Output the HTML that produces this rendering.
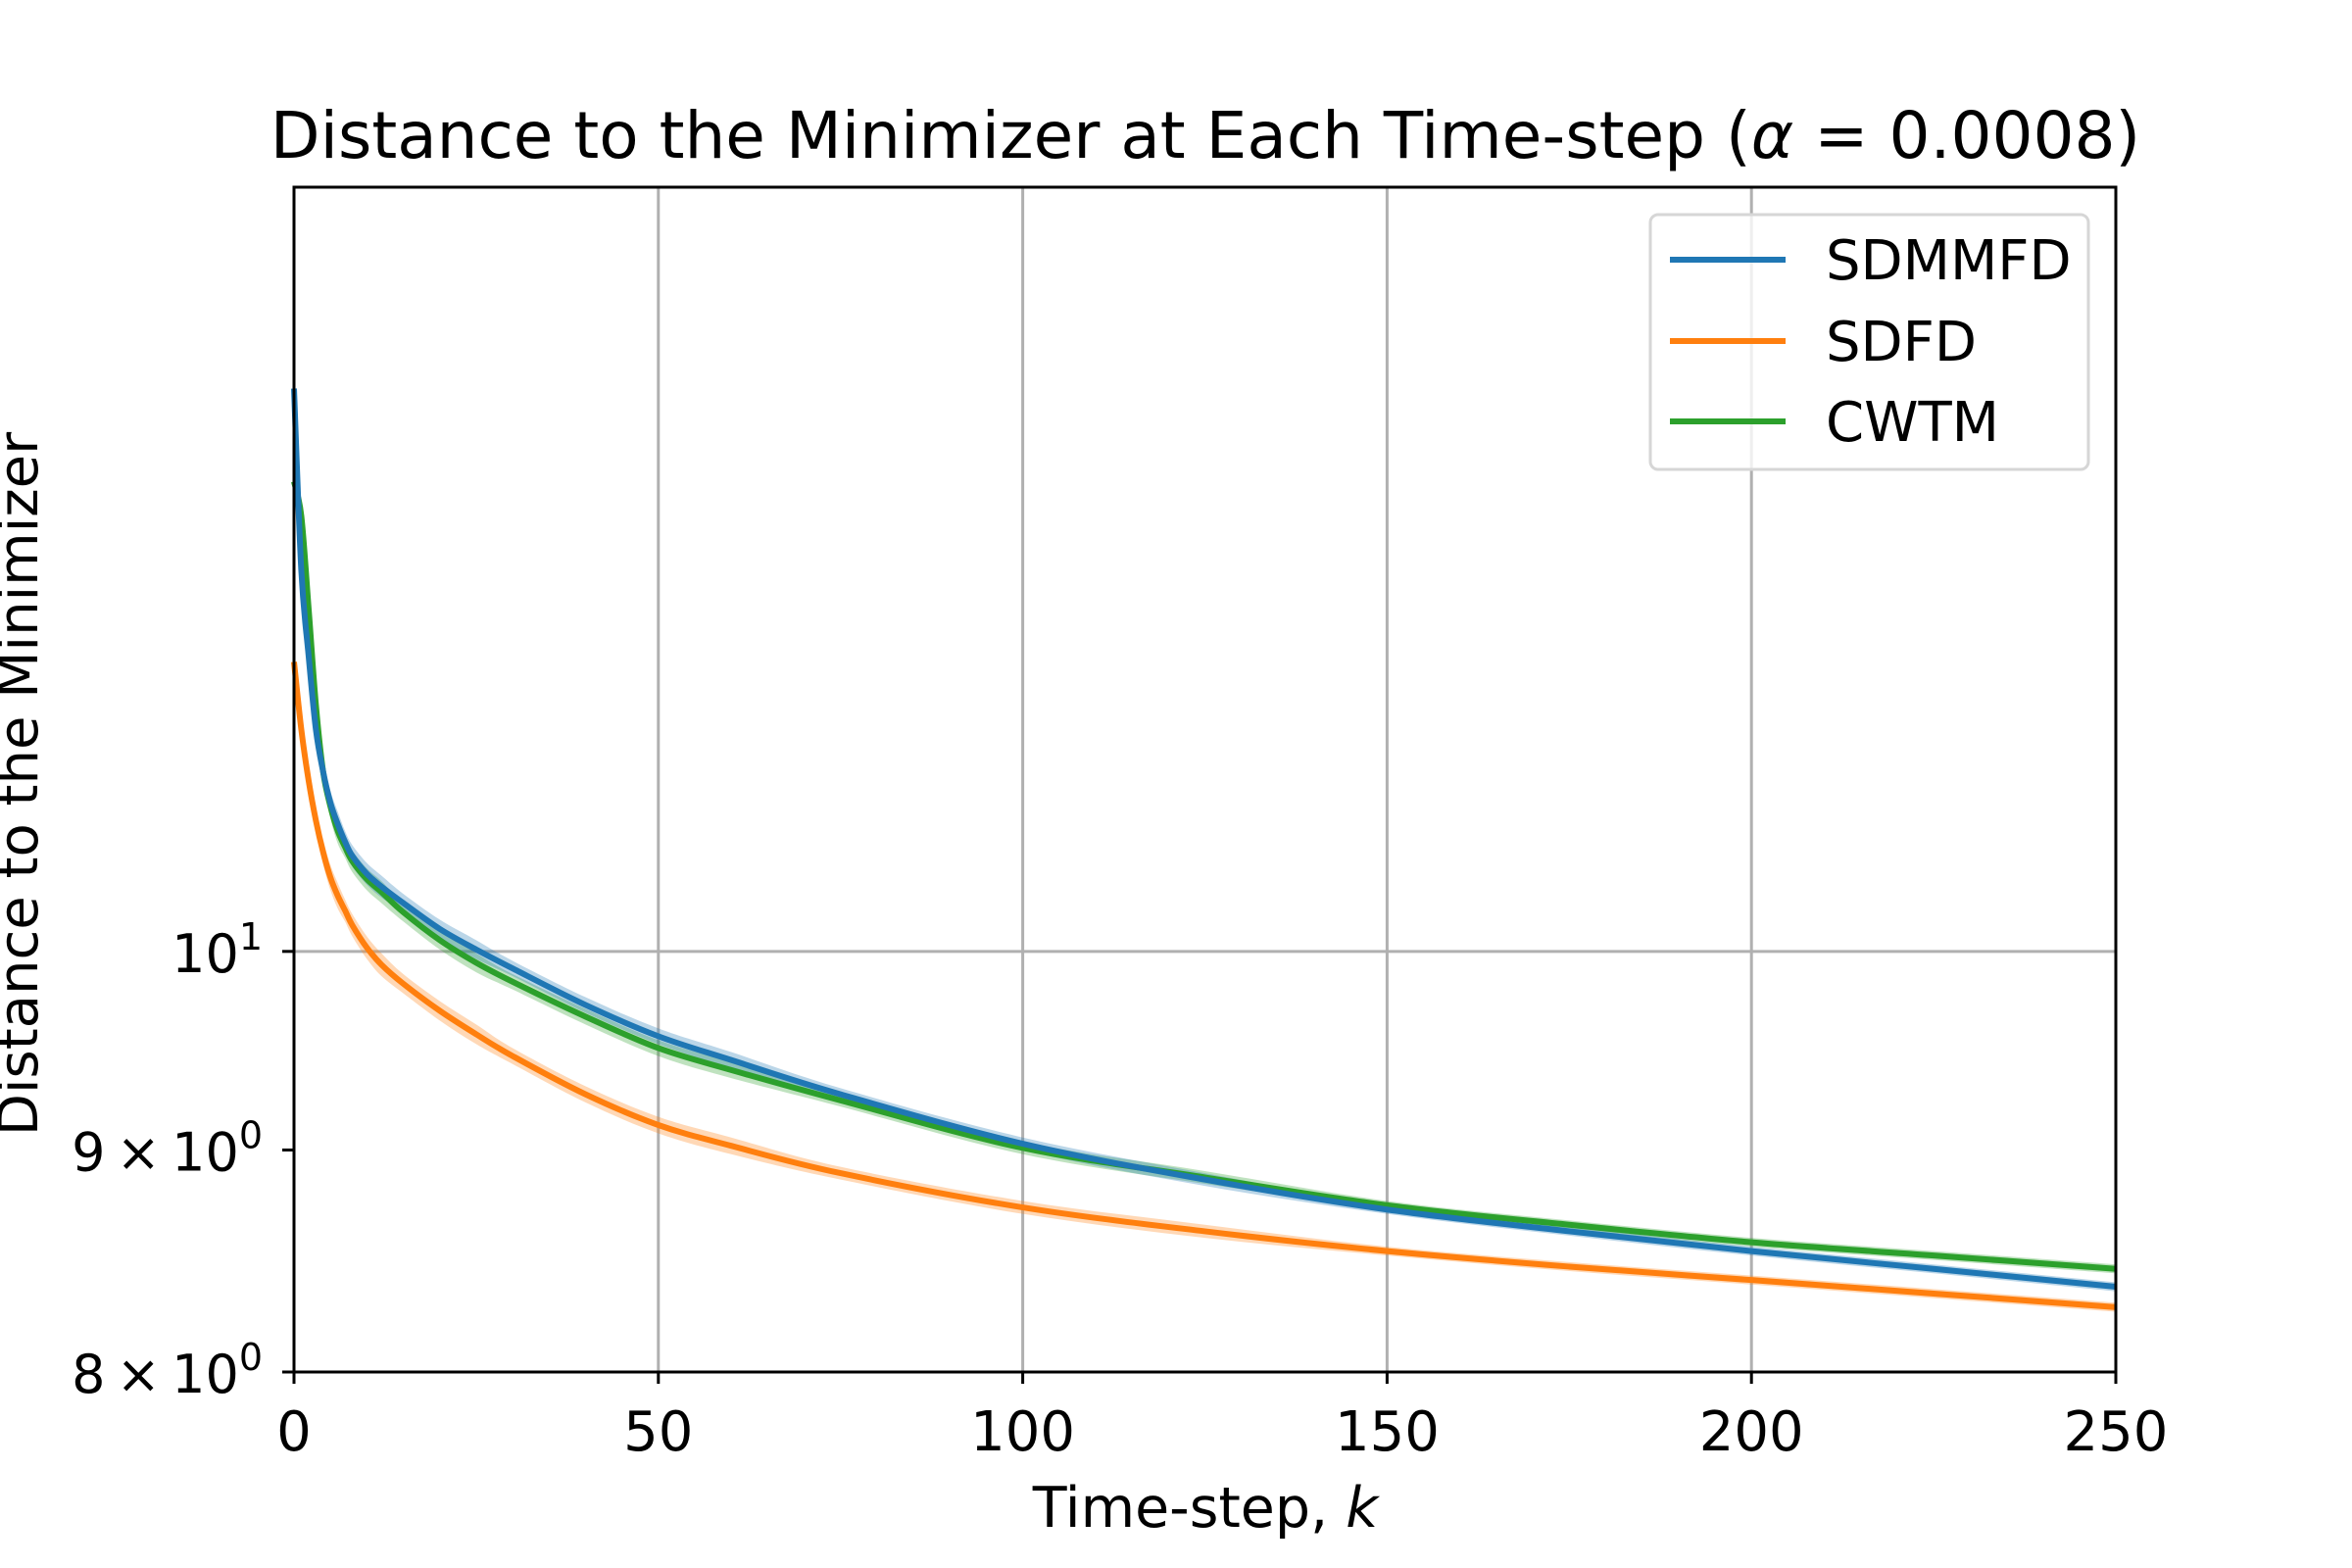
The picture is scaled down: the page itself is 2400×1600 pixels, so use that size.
<!DOCTYPE html>
<html><head><meta charset="utf-8"><style>
html,body{margin:0;padding:0;background:#fff;}
svg{display:block;font-family:"DejaVu Sans","Liberation Sans",sans-serif;}
</style></head><body>
<svg id="chart" width="2400" height="1600" viewBox="0 0 2400 1600" xmlns="http://www.w3.org/2000/svg">
<rect width="2400" height="1600" fill="#fff"/>
<g id="grid"></g>
<g id="bands"></g>
<g id="lines"></g>
<rect x="300" y="191" width="1859" height="1209" fill="none" stroke="#000" stroke-width="3"/>
<g id="ticks"></g>
<text x="1230" y="161" font-size="66" text-anchor="middle">Distance to the Minimizer at Each Time-step (<tspan font-style="italic">α</tspan> = 0.0008)</text>
<text x="1230" y="1558" font-size="57" text-anchor="middle">Time-step, <tspan font-style="italic">k</tspan></text>
<text transform="translate(38,800) rotate(-90)" font-size="56" text-anchor="middle">Distance to the Minimizer</text>
<g>
<rect x="1684" y="219" width="447" height="260" rx="8" fill="#fff" fill-opacity="0.8" stroke="#d6d6d6" stroke-width="3"/>
<line x1="1704" y1="265" x2="1822" y2="265" stroke="#1f77b4" stroke-width="6"/>
<text x="1863" y="285" font-size="56">SDMMFD</text>
<line x1="1704" y1="348" x2="1822" y2="348" stroke="#ff7f0e" stroke-width="6"/>
<text x="1863" y="368" font-size="56">SDFD</text>
<line x1="1704" y1="430" x2="1822" y2="430" stroke="#2ca02c" stroke-width="6"/>
<text x="1863" y="450" font-size="56">CWTM</text>
</g>
</svg>
<script>
const steps  = [0, 1, 2, 3, 4, 5, 6, 7, 8, 10, 12, 15, 20, 25, 30, 40, 50, 60, 75, 100, 125, 150, 175, 200, 225, 250];
const sdmmfd = [13.48, 12.24, 11.7, 11.25, 11.0, 10.82, 10.70, 10.60, 10.52, 10.42, 10.35, 10.26, 10.12, 10.01, 9.91, 9.72, 9.56, 9.44, 9.27, 9.03, 8.86, 8.72, 8.62, 8.53, 8.45, 8.37];
const sdfd   = [11.66, 11.25, 10.95, 10.72, 10.54, 10.40, 10.30, 10.22, 10.14, 10.02, 9.93, 9.83, 9.69, 9.57, 9.46, 9.27, 9.12, 9.02, 8.89, 8.73, 8.62, 8.53, 8.46, 8.40, 8.34, 8.28];
const cwtm   = [12.83, 12.6, 12.0, 11.4, 11.0, 10.80, 10.66, 10.57, 10.49, 10.39, 10.32, 10.21, 10.06, 9.94, 9.84, 9.66, 9.50, 9.39, 9.24, 9.01, 8.87, 8.74, 8.65, 8.57, 8.51, 8.45];
const spread = [0, 0, 0.05, 0.06, 0.07, 0.07, 0.07, 0.06, 0.06, 0.06, 0.06, 0.05, 0.05, 0.05, 0.04, 0.04, 0.04, 0.04, 0.03, 0.03, 0.03, 0.02, 0.02, 0.02, 0.02, 0.02];
const xTicks = [0, 50, 100, 150, 200, 250];
const xTickLabels = ["0", "50", "100", "150", "200", "250"];
const yTicks = [8, 9, 10];
const yTickLabels = [["8 × 10", "0"], ["9 × 10", "0"], ["10", "1"]];

const L = 300, R = 2159, T = 191, B = 1400, XMIN = 0, XMAX = 250, YMIN = 8, YMAX = 15.0;
const NS = "http://www.w3.org/2000/svg";
function xs(v){ return L + (v - XMIN) / (XMAX - XMIN) * (R - L); }
function ys(v){ return B - (Math.log10(v) - Math.log10(YMIN)) / (Math.log10(YMAX) - Math.log10(YMIN)) * (B - T); }
function mk(tag, attrs, parent){ const e = document.createElementNS(NS, tag); for (const k in attrs) e.setAttribute(k, attrs[k]); parent.appendChild(e); return e; }
function smooth(p, start){
  let d = start ? 'M' + p[0][0] + ',' + p[0][1] : 'L' + p[0][0] + ',' + p[0][1];
  for (let i = 0; i < p.length - 1; i++) {
    const p0 = p[Math.max(0, i - 1)], p1 = p[i], p2 = p[i + 1], p3 = p[Math.min(p.length - 1, i + 2)];
    const c1 = [p1[0] + (p2[0] - p0[0]) / 6, p1[1] + (p2[1] - p0[1]) / 6];
    const c2 = [p2[0] - (p3[0] - p1[0]) / 6, p2[1] - (p3[1] - p1[1]) / 6];
    d += 'C' + c1[0] + ',' + c1[1] + ' ' + c2[0] + ',' + c2[1] + ' ' + p2[0] + ',' + p2[1];
  }
  return d;
}

const grid = document.getElementById('grid'), ticks = document.getElementById('ticks');
xTicks.forEach((t, i) => {
  const g = mk('line', {x1: xs(t), x2: xs(t), y1: T, y2: B, stroke: '#b0b0b0', 'stroke-width': 3}, grid);
  
  
  const tk = mk('line', {x1: xs(t), x2: xs(t), y1: B, y2: B + 12, stroke: '#000', 'stroke-width': 3}, ticks);
  
  
  const tx = mk('text', {x: xs(t), y: 1480, 'font-size': 56, 'text-anchor': 'middle'}, ticks);
  tx.textContent = xTickLabels[i];
  
  
});
yTicks.forEach((t, i) => {
  if (t === 10) {
    const g = mk('line', {x1: L, x2: R, y1: ys(t), y2: ys(t), stroke: '#b0b0b0', 'stroke-width': 3}, grid);
    
    
  }
  const tk = mk('line', {x1: L - 12, x2: L, y1: ys(t), y2: ys(t), stroke: '#000', 'stroke-width': 3}, ticks);
  
  
  const tx = mk('text', {x: 268, y: ys(t) + 21, 'font-size': 54, 'text-anchor': 'end', 'word-spacing': -6}, ticks);
  
  
  const a = document.createElementNS(NS, 'tspan'); a.textContent = yTickLabels[i][0]; tx.appendChild(a);
  const b = document.createElementNS(NS, 'tspan'); b.textContent = yTickLabels[i][1];
  b.setAttribute('font-size', 38); b.setAttribute('dy', -23); tx.appendChild(b);
});

const series = [[cwtm, '#2ca02c', 'cwtm'], [sdmmfd, '#1f77b4', 'sdmmfd'], [sdfd, '#ff7f0e', 'sdfd']];
const bands = document.getElementById('bands'), lines = document.getElementById('lines');
series.forEach(([vals, col, name]) => {
  const up = steps.map((s, i) => [xs(s), ys(vals[i] + spread[i])]);
  const lo = steps.map((s, i) => [xs(s), ys(vals[i] - spread[i])]).reverse();
  const band = mk('path', {d: smooth(up, true) + smooth(lo, false) + 'Z', fill: col, 'fill-opacity': 0.3, stroke: 'none'}, bands);
  
  
  const pts = steps.map((s, i) => [xs(s), ys(vals[i])]);
  const ln = mk('path', {d: smooth(pts, true), fill: 'none', stroke: col, 'stroke-width': 6, 'stroke-linejoin': 'round'}, lines);
  
  
});
</script>
</body></html>
